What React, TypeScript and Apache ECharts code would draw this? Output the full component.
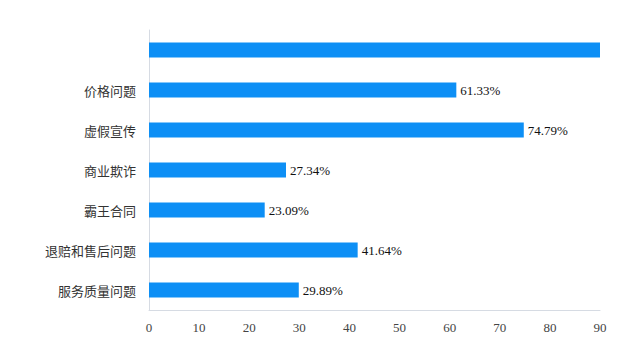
import React, { useEffect, useRef } from "react";
import * as echarts from "echarts";

const categories = ["服务质量问题", "退赔和售后问题", "霸王合同", "商业欺诈", "虚假宣传", "价格问题", ""];
const values = [29.89, 41.64, 23.09, 27.34, 74.79, 61.33, 95];
const showLabel = [true, true, true, true, true, true, false];
const xTicks = [0, 10, 20, 30, 40, 50, 60, 70, 80, 90];

export default function App() {
  const ref = useRef<HTMLDivElement>(null);
  useEffect(() => {
    if (!ref.current) return;
    const chart = echarts.init(ref.current, null, { renderer: "svg" });
    chart.setOption({
      animation: false,
      backgroundColor: "#ffffff",
      grid: { left: 149, right: 25, top: 30, bottom: 42, containLabel: false },
      xAxis: {
        type: "value",
        min: xTicks[0],
        max: xTicks[xTicks.length - 1],
        interval: 10,
        axisLine: { show: true, lineStyle: { color: "#d6dbe3", width: 1 } },
        axisTick: { show: false },
        splitLine: { show: false },
        axisLabel: {
          color: "#444",
          fontSize: 13,
          fontFamily: "Liberation Serif",
          margin: 11,
        },
      },
      yAxis: {
        type: "category",
        data: categories,
        axisLine: { show: true, lineStyle: { color: "#d6dbe3", width: 1 } },
        axisTick: { show: false },
        axisLabel: {
          color: "#333",
          fontSize: 13,
          fontFamily: "Noto Sans CJK SC",
          margin: 13,
        },
      },
      series: [
        {
          type: "bar",
          clip: true,
          barWidth: 15,
          itemStyle: { color: "#0d8ff5" },
          data: values.map((v, i) => ({
            value: v,
            label: {
              show: showLabel[i],
              position: "right",
              distance: 4,
              formatter: (p: any) => p.value.toFixed(2) + "%",
              color: "#111",
              fontSize: 13,
              fontFamily: "Liberation Serif",
            },
          })),
        },
      ],
    });
    return () => chart.dispose();
  }, []);
  return <div ref={ref} style={{ width: 625, height: 352, margin: -8 }} />;
}
